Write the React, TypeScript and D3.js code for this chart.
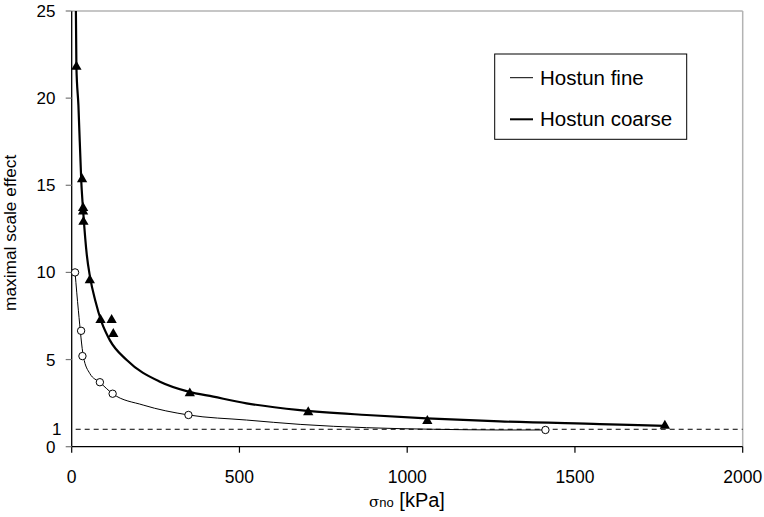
import * as d3 from 'd3';

// measured points
const fineX = [10, 28, 32, 84, 122, 348, 1412];
const fineY = [10.0, 6.65, 5.2, 3.7, 3.04, 1.82, 0.96];
const coarseX = [14, 31, 34, 34, 35, 54, 86, 119, 124, 352, 705, 1060, 1768];
const coarseY = [21.8, 15.35, 13.7, 13.5, 12.9, 9.55, 7.27, 7.27, 6.47, 3.06, 1.98, 1.48, 1.2];

// trend lines
const fineCurveX = [10, 20, 35, 54, 84, 122, 213, 348, 521, 681, 879, 1078, 1276, 1412];
const fineCurveY = [10, 7.8, 5.16, 4.2, 3.69, 3.04, 2.39, 1.82, 1.53, 1.28, 1.09, 1.0, 0.96, 0.96];
const coarseCurveX = [12.5, 14, 20, 28.6, 35, 45, 55, 70, 90, 114, 164, 263, 348, 422, 521, 680, 879, 1058, 1276, 1574, 1768];
const coarseCurveY = [25, 21.8, 19.6, 15.2, 13.3, 11, 9.7, 8.4, 7.1, 6.1, 4.97, 3.73, 3.16, 2.87, 2.49, 2.1, 1.82, 1.63, 1.45, 1.3, 1.2];

const xTicks = [0, 500, 1000, 1500, 2000];
const yTicks = [0, 5, 10, 15, 20, 25];
const refLevel = 1;

const W = 764;
const H = 517;
const font = 'Arial, "Liberation Sans", sans-serif';

const App = () => {
  const x = d3.scaleLinear().domain([0, 2000]).range([71.7, 742.7]);
  const y = d3.scaleLinear().domain([0, 25]).range([446.7, 11]);

  const line = d3.line<[number, number]>()
    .x(d => x(d[0]))
    .y(d => y(d[1]))
    .curve(d3.curveMonotoneX);

  const finePath = line(fineCurveX.map((v, i) => [v, fineCurveY[i]]));
  const coarsePath = line(coarseCurveX.map((v, i) => [v, coarseCurveY[i]]));

  const tri = d3.symbol().type(d3.symbolTriangle).size(46)();

  return (
    <svg width={W} height={H} style={{ position: 'absolute', left: 0, top: 0, background: '#fff' }}
      fontFamily={font}>
      <defs>
        <clipPath id="ytitle">
          <rect x={0} y={145} width={40} height={200} />
        </clipPath>
      </defs>
      {/* plot frame */}
      <line x1={x(0)} x2={x(2000)} y1={y(25)} y2={y(25)} stroke="#b3b3b3" strokeWidth={1.5} />
      <line x1={x(2000)} x2={x(2000)} y1={y(25)} y2={y(0)} stroke="#b3b3b3" strokeWidth={1.5} />
      <line x1={x(0)} x2={x(2000)} y1={y(0)} y2={y(0)} stroke="#000" strokeWidth={1.3} />
      <line x1={x(0)} x2={x(0)} y1={y(25)} y2={y(0)} stroke="#000" strokeWidth={1.3} />

      {/* x ticks */}
      {xTicks.map(t => (
        <g key={'x' + t}>
          <line x1={x(t)} x2={x(t)} y1={y(0)} y2={y(0) + 6} stroke="#000" strokeWidth={1.2} />
          <text x={x(t)} y={483} textAnchor="middle" fontSize={17.5} fill="#000">{t}</text>
        </g>
      ))}
      {/* y ticks */}
      {yTicks.map(t => (
        <g key={'y' + t}>
          <line x1={x(0) - 6} x2={x(0)} y1={y(t)} y2={y(t)} stroke="#777" strokeWidth={1.2} />
          <text x={55.5} y={y(t) + 6} textAnchor="end" fontSize={17} fill="#000">{t}</text>
        </g>
      ))}
      <text x={61.5} y={y(refLevel) + 6} textAnchor="end" fontSize={17} fill="#000">{refLevel}</text>

      {/* reference line */}
      <line x1={x(0) + 4} x2={x(2000)} y1={y(refLevel)} y2={y(refLevel)} stroke="#000" strokeWidth={1}
        strokeDasharray="5,4" />

      {/* curves */}
      <path d={finePath ?? ''} fill="none" stroke="#000" strokeWidth={1} />
      <path d={coarsePath ?? ''} fill="none" stroke="#000" strokeWidth={2.2} />

      {/* markers */}
      {fineX.map((v, i) => (
        <circle key={'f' + i} cx={x(v)} cy={y(fineY[i])} r={3.7} fill="#fff" stroke="#000" strokeWidth={1} />
      ))}
      {coarseX.map((v, i) => (
        <path key={'c' + i} d={tri ?? ''} transform={`translate(${x(v)},${y(coarseY[i])})`} fill="#000" />
      ))}

      {/* axis titles */}
      <g clipPath="url(#ytitle)">
        <text transform="translate(16,311) rotate(-90)" textAnchor="start" fontSize={17.3} fill="#000">
          maximal scale effect
        </text>
      </g>
      <text x={407} y={507} textAnchor="middle" fill="#000">
        <tspan fontSize={15} fontFamily='"DejaVu Serif", serif'>σ</tspan>
        <tspan fontSize={13}>no</tspan>
        <tspan fontSize={20}> [kPa]</tspan>
      </text>

      {/* legend */}
      <rect x={494.7} y={54} width={192} height={85.3} fill="#fff" stroke="#000" strokeWidth={1} />
      <line x1={510} x2={533} y1={77.7} y2={77.7} stroke="#000" strokeWidth={1} />
      <text x={540} y={84.5} fontSize={20.5} fill="#000">Hostun fine</text>
      <line x1={510} x2={533} y1={119.3} y2={119.3} stroke="#000" strokeWidth={2} />
      <text x={540} y={126} fontSize={20.5} fill="#000">Hostun coarse</text>
    </svg>
  );
};

export default App;
